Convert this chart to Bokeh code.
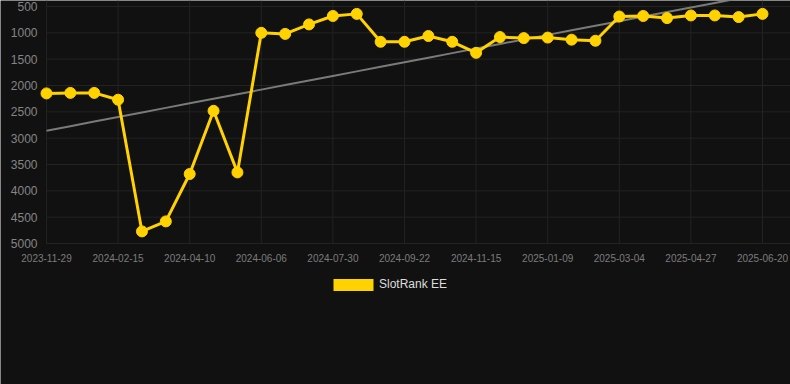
import numpy as np
from bokeh.plotting import figure
from bokeh.models import (Range1d, Legend, LegendItem, ColumnDataSource)
from bokeh.core.properties import value
from bokeh.embed import file_html
from bokeh.resources import INLINE

# ---- data ----
rank_values = [2150, 2140, 2140, 2270, 4770, 4580, 3680, 2480, 3650, 1000,
               1020, 840, 680, 640, 1170, 1170, 1060, 1170, 1380, 1080,
               1100, 1090, 1130, 1150, 690, 680, 720, 670, 670, 700, 640]
tick_labels = ["2023-11-29", "2024-02-15", "2024-04-10", "2024-06-06",
               "2024-07-30", "2024-09-22", "2024-11-15", "2025-01-09",
               "2025-03-04", "2025-04-27", "2025-06-20"]
y_ticks = [500, 1000, 1500, 2000, 2500, 3000, 3500, 4000, 4500, 5000]
series_name = "SlotRank EE"

idx = np.arange(len(rank_values))
coef = np.polyfit(idx, rank_values, 1)
trend = np.polyval(coef, idx)

BG = "#111111"
GRID = "#232323"
GOLD = "#ffd200"
FONT = value("Liberation Sans")

X_START, X_END = -1.927, 31.173
Y_TOP = 386
Y_AXIS = max(y_ticks)
tick_pos = list(range(0, len(rank_values), 3))

src = ColumnDataSource(dict(x=idx, y=rank_values, t=trend))

p = figure(width=790, height=384, output_backend="svg", toolbar_location=None,
           x_range=Range1d(X_START, X_END), y_range=Range1d(7677, Y_TOP),
           x_axis_location=None, y_axis_location=None,
           min_border_left=0, min_border_right=0, min_border_top=0,
           min_border_bottom=0)
p.background_fill_color = BG
p.border_fill_color = BG
p.outline_line_color = None
p.xgrid.visible = False
p.ygrid.visible = False

# grid lines (from the tick lists)
vsrc = ColumnDataSource(dict(x=tick_pos, y0=[Y_TOP] * len(tick_pos),
                             y1=[Y_AXIS] * len(tick_pos)))
p.segment(x0="x", y0="y0", x1="x", y1="y1", source=vsrc, line_color=GRID,
          line_width=1)
hsrc = ColumnDataSource(dict(y=y_ticks, x0=[tick_pos[0]] * len(y_ticks),
                             x1=[X_END] * len(y_ticks)))
p.segment(x0="x0", y0="y", x1="x1", y1="y", source=hsrc, line_color=GRID,
          line_width=1)

# axis tick labels as text placed through the plot scales
xl = ColumnDataSource(dict(x=tick_pos, y=[Y_AXIS] * len(tick_pos), s=tick_labels))
p.text(x="x", y="y", text="s", source=xl, text_align="center",
       text_baseline="top", y_offset=10, text_color="#7c7c7c",
       text_font=FONT, text_font_size=value("10px"))
yl = ColumnDataSource(dict(x=[X_START] * len(y_ticks), y=y_ticks,
                           s=[str(v) for v in y_ticks]))
p.text(x="x", y="y", text="s", source=yl, text_align="right",
       text_baseline="middle", x_offset=37, text_color="#858585",
       text_font=FONT, text_font_size=value("12px"))

# series
p.line("x", "t", source=src, line_color="#7a7a7a", line_width=2)
p.line("x", "y", source=src, line_color=GOLD, line_width=3)
p.scatter("x", "y", source=src, size=11, fill_color=GOLD, line_color=GOLD)

# hidden bar renderer used only for the legend swatch
swatch = p.vbar(x="x", top="y", width=0.5, source=src, fill_color=GOLD,
                line_color=None, visible=False)

legend = Legend(items=[LegendItem(label=series_name, renderers=[swatch])],
                location=(323, 87.5), orientation="horizontal",
                margin=0, padding=5, glyph_width=50, glyph_height=15,
                label_height=15, label_standoff=1,
                label_text_color="#dddddd", label_text_font="Liberation Sans",
                label_text_font_size="12px", inactive_fill_alpha=0,
                background_fill_alpha=0, border_line_alpha=0)
p.add_layout(legend, "center")

open("out.html", "w").write(file_html(p, INLINE))
